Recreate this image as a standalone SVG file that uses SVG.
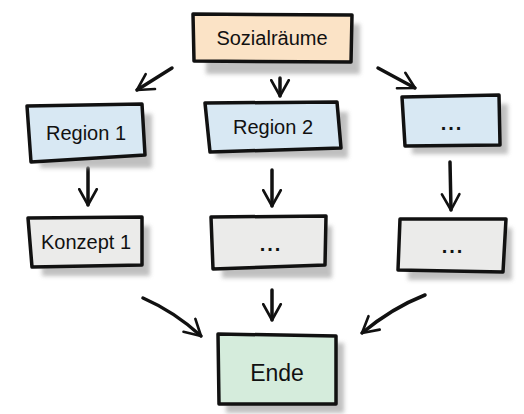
<svg xmlns="http://www.w3.org/2000/svg" width="524" height="414" viewBox="0 0 524 414">
<defs>
<style>
.box{stroke:#111;stroke-width:3.5;stroke-linejoin:round;stroke-linecap:round}
.sh{fill:#b5b5b5;opacity:0.85}
.t{font-family:"Comic Sans MS","Liberation Sans",sans-serif;font-size:20px;fill:#111;text-anchor:middle}
.d{font-weight:bold;letter-spacing:2px}
.c{fill:none;stroke:#111;stroke-width:3.5;stroke-linecap:round;stroke-linejoin:round}
.soz{fill:#fbe3c6}
.reg{fill:#d8e8f3}
.kon{fill:#ebebea}
.end{fill:#d5ecdc}
</style>
<marker id="ah" viewBox="0 0 12 12" refX="10" refY="6" markerWidth="6" markerHeight="6" orient="auto" markerUnits="strokeWidth">
<path d="M1,1 L10,6 L1,11" fill="none" stroke="#111" stroke-width="1.5" stroke-linecap="round" stroke-linejoin="round"/>
</marker>
<filter id="blur" x="-10%" y="-10%" width="130%" height="140%"><feGaussianBlur stdDeviation="2"/></filter>
</defs>
<rect width="524" height="414" fill="#ffffff"/>
<g id="connectors">
<path class="c" d="M172,68 L137,90" marker-end="url(#ah)"/>
<path class="c" d="M280,78 L280,96" marker-end="url(#ah)"/>
<path class="c" d="M378,68 L415,88" marker-end="url(#ah)"/>
<path class="c" d="M88,168 L88,205" marker-end="url(#ah)"/>
<path class="c" d="M272,170 L272,206" marker-end="url(#ah)"/>
<path class="c" d="M450,162 L451,210" marker-end="url(#ah)"/>
<path class="c" d="M143,298 Q175,312 201,336" marker-end="url(#ah)"/>
<path class="c" d="M272,290 L272,320" marker-end="url(#ah)"/>
<path class="c" d="M425,295 Q392,308 362,333" marker-end="url(#ah)"/>
</g>
<g id="sozialraeume">
<rect class="sh" x="206" y="24" width="154" height="50" filter="url(#blur)"/>
<path class="box soz" d="M193,14 L352,15 L351,62 L194,61 Z"/>
<text class="t" x="272" y="45">Sozialräume</text>
</g>
<g id="region1">
<rect class="sh" x="40" y="114" width="112" height="54" filter="url(#blur)"/>
<path class="box reg" d="M27,106 L142,104 L145,155 L31,162 Z"/>
<text class="t" x="86" y="140">Region 1</text>
</g>
<g id="region2">
<rect class="sh" x="216" y="112" width="132" height="46" filter="url(#blur)"/>
<path class="box reg" d="M205,103 L337,102 L341,148 L210,152 Z"/>
<text class="t" x="273" y="134">Region 2</text>
</g>
<g id="region3">
<rect class="sh" x="412" y="104" width="96" height="50" filter="url(#blur)"/>
<path class="box reg" d="M402,97 L499,95 L500,145 L405,146 Z"/>
<text class="t d" x="452" y="130">...</text>
</g>
<g id="konzept1">
<rect class="sh" x="42" y="226" width="108" height="50" filter="url(#blur)"/>
<path class="box kon" d="M28,218 L142,217 L142,265 L32,267 Z"/>
<text class="t" x="86" y="249">Konzept 1</text>
</g>
<g id="konzept2">
<rect class="sh" x="222" y="226" width="110" height="52" filter="url(#blur)"/>
<path class="box kon" d="M211,217 L326,216 L325,265 L213,269 Z"/>
<text class="t d" x="271" y="251">...</text>
</g>
<g id="konzept3">
<rect class="sh" x="408" y="228" width="104" height="52" filter="url(#blur)"/>
<path class="box kon" d="M400,219 L506,219 L503,272 L398,270 Z"/>
<text class="t d" x="453" y="253">...</text>
</g>
<g id="ende">
<rect class="sh" x="226" y="343" width="118" height="70" filter="url(#blur)"/>
<path class="box end" d="M218,334 L336,336 L336,404 L219,404 Z"/>
<text class="t" x="277" y="381" style="font-size:23px">Ende</text>
</g>
</svg>
